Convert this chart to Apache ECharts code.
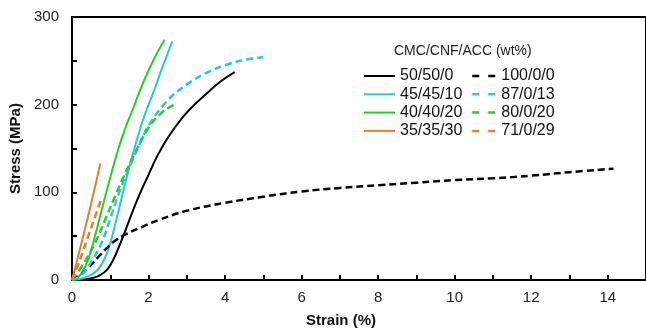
<!DOCTYPE html>
<html>
<head>
<meta charset="utf-8">
<script src="https://cdn.jsdelivr.net/npm/echarts@6/dist/echarts.min.js"></script>
<style>
  html, body { margin: 0; padding: 0; background: #fff; }
  #chart { width: 646px; height: 333px; }
</style>
</head>
<body>
<div id="chart"></div>
<script>
// [strain %, stress MPa]
const cmc50_50_0 = [[0,0],[0.3,0.5],[0.6,3],[0.75,6],[0.9,11],[1.0,17],[1.1,25],[1.2,35],[1.4,57],[1.6,80],[1.8,101],[2.0,120],[2.2,139],[2.5,162],[2.9,186],[3.2,200],[3.6,216],[3.9,227],[4.25,237]];
const cmc45_45_10 = [[0,0],[0.2,1],[0.35,3],[0.5,6],[0.68,12],[0.85,24],[1.0,42],[1.2,76],[1.4,112],[1.6,145],[1.85,182],[2.16,218],[2.4,247],[2.62,272]];
const cmc40_40_20 = [[0,0],[0.2,5],[0.42,23],[0.6,50],[0.8,84],[1.0,117],[1.2,148],[1.4,174],[1.6,196],[1.8,219],[2.0,239],[2.2,257],[2.42,274]];
const cmc35_35_30 = [[0,0],[0.2,34],[0.4,69],[0.6,106],[0.74,133]];
const cmc100_0_0 = [[0,0],[0.2,5],[0.45,15],[0.7,27],[0.9,36],[1.1,44],[1.4,52],[1.8,60],[2.3,69],[3,79],[4,88],[5,95],[6,101],[7,105],[8,108],[9,111],[10,114],[11,116],[12,119],[13,123],[14.15,127]];
const cmc87_0_13 = [[0,0],[0.2,4],[0.42,15],[0.76,41],[1.0,70],[1.2,96],[1.5,129],[1.8,158],[2.0,176],[2.5,205],[3.0,223],[3.5,236],[4.0,245],[4.5,251],[5.0,254]];
const cmc80_0_20 = [[0,0],[0.25,15],[0.6,42],[0.85,67],[1.1,93],[1.3,113],[1.6,141],[2.0,174],[2.3,189],[2.5,196],[2.68,200]];
const cmc71_0_29 = [[0,0],[0.2,22],[0.4,47],[0.6,72],[0.77,93]];

const solidNames = ["50/50/0", "45/45/10", "40/40/20", "35/35/30"];
const dashedNames = ["100/0/0", "87/0/13", "80/0/20", "71/0/29"];
const colors = ["#000000", "#1ec8f0", "#22d422", "#f07a28"];

const FONT = "'Liberation Sans', Arial, sans-serif";

const solidData = [cmc50_50_0, cmc45_45_10, cmc40_40_20, cmc35_35_30];
const dashedData = [cmc100_0_0, cmc87_0_13, cmc80_0_20, cmc71_0_29];

const series = [];
solidNames.forEach((name, i) => {
  series.push({
    name: name,
    type: "line",
    data: solidData[i],
    smooth: 0.4,
    symbol: "none",
    color: colors[i],
    lineStyle: { width: 2, color: colors[i] },
  });
});
dashedNames.forEach((name, i) => {
  series.push({
    name: name,
    type: "line",
    data: dashedData[i],
    smooth: 0.4,
    symbol: "none",
    color: colors[i],
    lineStyle: { width: 2.5, color: colors[i], type: [7, 4] },
  });
});

const chart = echarts.init(document.getElementById("chart"));

const legendBase = {
  orient: "vertical",
  top: 67,
  padding: 0,
  itemHeight: 10,
  itemGap: 0.3,
  itemStyle: { opacity: 0 },
  textStyle: { fontSize: 16, lineHeight: 18, color: "#111", fontFamily: FONT },
};

const option = {
  animation: false,
  textStyle: { fontFamily: FONT },
  title: {
    text: "CMC/CNF/ACC (wt%)",
    left: 394,
    top: 44,
    padding: 0,
    textStyle: { fontSize: 14, fontWeight: "normal", color: "#222", fontFamily: FONT },
  },
  legend: [
    Object.assign({}, legendBase, {
      data: solidNames,
      left: 363,
      itemWidth: 31,
      lineStyle: { width: 2 },
    }),
    Object.assign({}, legendBase, {
      data: dashedNames,
      left: 471,
      itemWidth: 24,
      lineStyle: { type: [7, 9], width: 2.5 },
    }),
  ],
  grid: {
    left: 72,
    top: 17,
    width: 577.5,
    height: 266,
    show: true,
    borderColor: "#000",
    borderWidth: 2,
  },
  xAxis: {
    type: "value",
    min: 0,
    max: 15,
    interval: 1,
    name: "Strain (%)",
    nameLocation: "middle",
    nameGap: 33,
    nameTextStyle: {
      fontSize: 15,
      fontWeight: "bold",
      color: "#111",
      fontFamily: FONT,
      padding: [0, 36, 0, 0],
    },
    axisLine: { show: true, lineStyle: { color: "#000", width: 2 } },
    axisTick: { show: true, inside: true, length: 5, lineStyle: { color: "#000", width: 2 } },
    axisLabel: {
      margin: 10,
      fontSize: 15,
      color: "#222",
      fontFamily: FONT,
      showMaxLabel: false,
      formatter: (v) => (v % 2 === 0 ? String(v) : ""),
    },
    splitLine: { show: false },
  },
  yAxis: {
    type: "value",
    min: 0,
    max: 300,
    interval: 50,
    name: "Stress (MPa)",
    nameLocation: "middle",
    nameGap: 43,
    nameTextStyle: { fontSize: 15, fontWeight: "bold", color: "#111", fontFamily: FONT },
    axisLine: { show: true, lineStyle: { color: "#000", width: 2 } },
    axisTick: { show: true, inside: true, length: 5, lineStyle: { color: "#000", width: 2 } },
    axisLabel: {
      margin: 13,
      fontSize: 15,
      color: "#222",
      fontFamily: FONT,
      formatter: (v) => (v % 100 === 0 ? String(v) : ""),
    },
    splitLine: { show: false },
  },
  series: series,
};

chart.setOption(option);
</script>
</body>
</html>
